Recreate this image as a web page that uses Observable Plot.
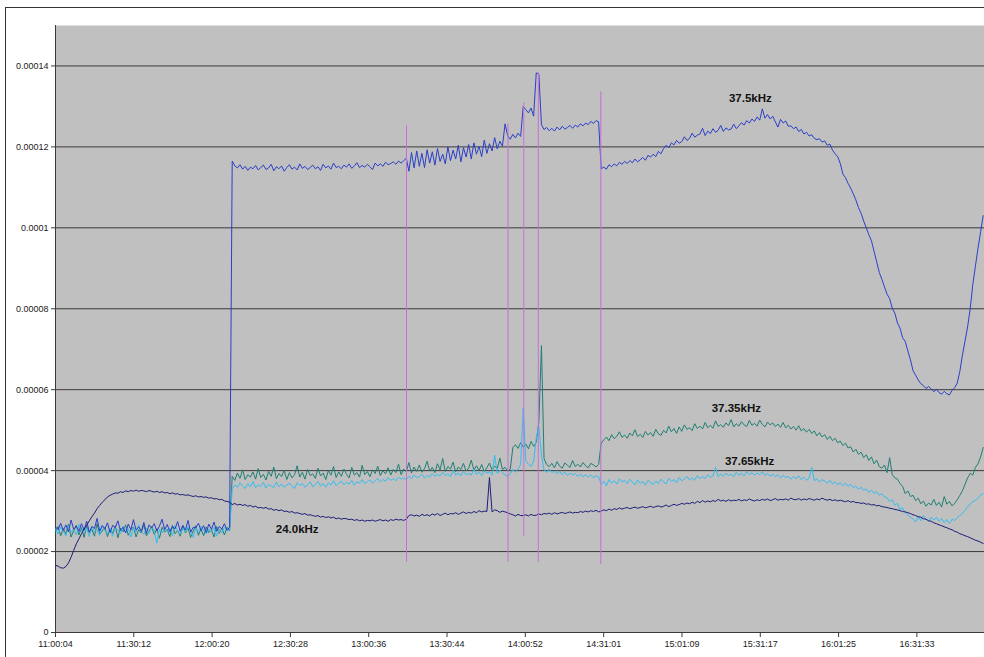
<!DOCTYPE html>
<html><head><meta charset="utf-8">
<script src="https://cdn.jsdelivr.net/npm/d3@7"></script>
<script src="https://cdn.jsdelivr.net/npm/@observablehq/plot@0.6"></script>
<style>
body{margin:0;background:#fff;}
#wrap{position:relative;width:984px;height:657px;overflow:hidden;}
#border{position:absolute;left:5px;top:7px;width:1200px;height:1000px;border-top:1px solid #333;border-left:1px solid #333;pointer-events:none;}
</style></head><body><div id="wrap"></div>
<script>
// sampling: one reading per minute starting at 11:00:04 (values in units of 1e-6)
const startTime = "11:00:04";
const endTime = "16:57:34";
const stepSeconds = 60;

const xTickLabels = ["11:00:04","11:30:12","12:00:20","12:30:28","13:00:36","13:30:44","14:00:52","14:31:01","15:01:09","15:31:17","16:01:25","16:31:33"];
const yTickLabels = ["0","0.00002","0.00004","0.00006","0.00008","0.0001","0.00012","0.00014"];

const seriesNames = ["37.35kHz","37.65kHz","37.5kHz","24.0kHz"];
const seriesColors = ["#1f7f73","#33bdf0","#2a3fc8","#1c1c78"];

const s3735 = [
24.8,26.2,23.9,25.7,24.4,26.8,23.6,25.2,26.5,24.1,
25.9,23.5,26.3,24.7,25.5,23.8,26.9,24.3,25.1,26.0,
23.7,25.6,24.5,26.4,23.4,25.8,24.9,26.6,24.0,25.3,
26.1,23.6,25.4,24.6,26.7,23.9,25.0,26.2,24.2,25.7,
23.3,26.0,24.8,25.5,23.7,26.5,24.4,25.2,23.8,26.3,
24.6,25.9,23.5,25.1,26.4,24.0,25.6,23.9,26.1,24.7,
25.4,23.6,26.2,24.5,25.8,24.1,26.0,25.2,38.6,37.6,
39.4,38.1,40.2,37.8,39.0,38.4,39.7,37.9,40.5,38.3,
39.1,37.7,39.8,38.6,40.9,38.0,39.3,38.5,40.1,37.8,
39.5,38.2,39.0,41.2,38.4,39.6,37.9,40.3,38.8,39.2,
38.1,40.6,38.7,39.4,37.8,40.0,38.9,41.0,38.3,39.7,
38.6,40.4,39.1,38.2,40.8,38.9,39.5,38.4,41.3,39.0,
39.8,38.5,40.2,39.3,41.1,38.8,40.0,39.2,40.7,38.9,
40.3,39.5,41.6,39.0,40.4,39.7,42.0,39.4,40.9,39.8,
41.4,39.6,40.5,42.3,39.9,40.8,39.5,41.7,40.2,43.0,
39.8,41.0,40.4,42.1,39.7,40.9,40.3,41.8,39.9,40.6,
42.6,40.1,41.2,40.0,41.5,39.8,40.7,41.9,40.2,41.1,
40.5,43.1,40.3,40.8,39.9,40.4,45.7,46.4,45.5,46.9,
45.8,46.6,45.4,47.2,46.0,47.0,52.0,70.9,43.0,41.5,
41.0,41.8,40.7,42.2,41.1,40.6,41.9,41.3,40.8,42.5,
41.0,41.6,40.9,42.0,41.2,40.7,41.8,41.4,40.9,41.5,
46.8,47.6,48.3,47.4,48.9,47.9,48.5,49.6,48.2,48.8,
48.0,49.3,48.6,50.1,48.4,49.0,48.2,49.7,48.8,49.4,
48.5,50.2,49.1,48.7,50.0,49.3,51.0,49.6,50.4,49.2,
50.8,49.7,51.3,50.2,50.6,49.9,51.6,50.4,51.0,50.3,
51.9,50.6,51.2,50.5,52.3,50.9,51.4,50.7,51.8,51.1,
52.6,50.8,51.6,51.0,52.1,51.3,50.9,52.4,51.2,51.7,
51.0,52.5,51.4,50.8,52.0,51.3,51.8,50.9,51.5,50.7,
51.9,50.6,51.2,50.3,50.9,50.0,51.1,49.8,50.4,49.5,
50.2,49.2,49.8,48.6,49.4,48.3,48.9,47.7,48.5,47.4,
48.0,46.9,47.3,46.2,46.8,45.6,45.9,44.6,45.3,44.0,
44.6,43.2,43.9,42.5,43.4,41.7,42.6,41.0,40.6,41.4,
39.5,43.2,39.0,38.2,37.9,36.8,36.1,34.3,35.0,33.6,
33.9,32.6,33.2,31.8,32.5,31.2,32.0,31.5,32.9,31.4,
32.2,31.0,33.6,31.7,32.4,31.3,31.9,32.8,33.9,35.0,
36.6,38.2,39.3,38.9,40.8,41.7,43.4,45.7
];

const s3765 = [
25.6,24.3,26.1,25.0,23.9,26.4,24.8,25.5,24.1,26.7,
25.2,24.6,25.9,23.7,26.2,24.9,25.4,24.0,26.5,25.1,
24.5,25.8,23.8,26.0,25.3,24.4,26.3,24.7,25.6,23.6,
25.9,24.8,26.6,25.0,24.2,25.7,24.5,26.1,25.2,22.1,
25.5,24.6,26.0,24.9,25.8,23.9,26.4,25.1,24.3,25.7,
24.8,26.2,25.0,23.5,25.9,24.7,26.3,25.3,24.4,25.6,
24.9,26.0,23.8,25.5,24.6,26.1,25.0,25.4,35.5,36.4,
35.9,37.0,36.2,35.6,36.8,36.0,37.3,35.8,36.5,36.1,
37.1,35.7,36.6,36.2,35.8,37.2,36.0,36.7,35.9,36.4,
36.9,36.1,35.6,37.0,36.3,36.8,35.9,36.5,37.2,36.0,
36.6,37.3,36.2,36.8,35.9,37.0,36.4,37.5,36.3,36.9,
37.4,36.5,37.1,36.7,37.6,36.4,37.2,36.9,37.8,36.8,
37.3,37.7,36.9,37.5,38.1,37.2,37.8,37.4,38.3,37.6,
38.0,37.5,38.4,37.9,38.2,37.8,38.6,38.0,38.9,38.3,
38.5,39.1,38.2,38.8,38.4,39.3,38.6,39.0,38.7,39.6,
38.8,39.2,38.5,40.1,38.9,39.4,38.7,39.8,39.0,39.3,
38.9,40.3,39.1,39.6,38.8,40.0,39.4,39.7,38.9,43.8,
39.3,40.1,39.5,39.0,38.6,39.2,40.3,39.6,40.4,41.5,
55.5,42.2,41.7,41.0,42.3,48.0,51.0,44.0,40.2,39.6,
40.4,39.5,39.9,39.2,39.8,39.0,39.6,38.8,39.4,38.9,
39.3,38.6,39.1,38.5,39.0,38.4,38.9,38.3,38.7,38.5,
36.6,37.4,36.2,37.8,36.9,37.5,36.7,38.0,37.2,37.6,
36.8,37.9,37.1,36.5,37.7,36.9,37.3,36.4,37.6,37.0,
36.6,37.4,36.8,37.9,37.2,36.7,38.1,37.3,37.8,37.0,
38.3,37.5,37.9,38.6,37.7,38.2,37.6,38.8,38.0,38.5,
38.1,39.0,38.3,38.7,40.8,38.5,39.2,38.6,39.4,38.8,
39.1,38.5,39.6,38.9,39.3,38.7,39.8,39.0,39.5,38.9,
39.4,39.0,39.7,38.8,39.3,38.6,39.1,38.5,39.0,38.2,
38.8,38.3,38.6,37.9,38.5,38.0,38.7,37.8,38.4,37.6,
38.1,40.8,37.5,38.0,37.2,37.8,37.4,36.9,37.6,36.8,
37.2,36.5,37.0,36.3,36.9,36.1,36.6,35.8,36.2,35.4,
35.9,35.1,35.5,34.6,35.2,34.4,34.8,33.9,34.3,33.5,
33.3,32.4,32.8,31.5,31.9,30.4,30.8,29.6,29.0,28.5,
28.1,27.3,28.6,27.6,28.9,28.0,27.4,28.5,27.8,28.4,
27.5,28.2,27.1,27.9,26.9,28.0,27.7,28.3,28.9,29.4,
30.2,31.0,31.8,32.3,32.6,33.3,33.9,34.3
];

const s375 = [
26.1,25.4,27.0,25.2,26.6,24.9,27.8,25.5,26.3,25.0,
26.9,25.3,27.5,24.8,26.2,25.7,28.2,25.1,26.4,25.6,
27.1,24.7,26.5,25.9,27.6,25.2,26.0,24.6,26.8,25.4,
27.9,25.3,26.1,25.0,27.2,24.5,26.6,25.8,26.9,25.1,
26.3,28.0,25.4,26.7,24.9,26.2,25.6,27.4,25.0,26.5,
25.3,27.7,24.8,26.0,25.9,27.0,25.2,26.4,24.7,26.8,
25.5,27.3,25.0,26.2,25.6,26.9,25.3,26.0,116.5,115.3,
114.8,115.6,114.5,115.2,114.2,115.0,114.6,115.4,114.3,114.9,
115.5,114.4,114.8,115.7,114.1,115.1,114.6,115.3,114.0,114.9,
115.6,114.5,115.0,114.3,115.8,114.7,115.2,114.4,114.9,115.5,
114.6,115.1,114.2,115.7,114.8,115.3,114.5,116.0,114.9,115.2,
114.6,115.5,115.0,115.8,114.7,115.3,116.1,114.9,115.4,115.0,
115.7,115.1,114.4,116.0,115.3,115.8,115.2,116.2,115.6,115.9,
116.3,115.7,116.5,116.0,116.6,117.2,114.0,118.6,114.8,119.0,
115.2,118.4,114.9,119.3,116.0,118.8,115.5,119.6,116.4,118.2,
115.8,120.0,116.6,119.2,117.0,120.4,116.3,119.8,117.5,120.6,
117.0,121.0,118.2,120.1,117.6,121.7,118.4,120.8,119.0,122.3,
119.5,121.4,120.2,125.7,122.8,121.9,123.1,122.2,123.4,122.6,
130.0,129.2,128.4,129.6,127.6,138.3,138.0,125.5,124.3,124.8,
124.0,124.6,123.9,124.9,124.2,125.1,124.4,124.8,125.3,124.6,
125.4,124.9,125.7,125.2,125.9,125.5,126.3,125.8,126.5,126.2,
114.6,115.0,114.5,115.6,115.1,115.8,115.3,116.2,115.7,116.4,
115.9,116.6,116.1,117.0,116.3,116.8,117.4,116.7,117.9,117.5,
118.2,117.6,118.9,118.3,119.6,120.4,119.8,121.0,120.5,121.6,
120.9,121.3,122.5,121.6,122.1,123.4,122.4,122.9,123.2,124.6,
122.8,123.9,123.3,124.5,123.6,124.1,125.3,123.8,124.7,124.2,
124.4,125.6,124.5,125.2,126.0,125.4,126.5,125.9,126.9,126.3,
127.4,126.6,129.4,127.1,128.0,126.9,127.6,126.2,124.9,126.8,
125.9,126.4,125.1,125.2,124.5,124.9,123.8,124.3,123.2,123.6,
122.7,123.0,122.1,121.8,122.0,121.2,121.5,120.4,120.7,119.2,
118.3,117.6,115.9,113.3,112.4,111.0,109.8,108.4,106.9,105.0,
103.6,101.7,100.0,98.3,96.8,94.2,91.6,89.0,87.3,85.4,
83.6,82.5,80.1,78.9,76.5,75.2,72.8,71.9,69.6,67.4,
64.7,63.6,62.4,61.5,61.0,60.3,60.8,60.2,59.5,60.1,
59.3,58.9,59.6,59.0,58.7,59.8,60.5,61.6,64.5,68.5,
72.0,75.5,80.0,86.0,90.5,95.0,99.0,103.0
];

const s240 = [
16.6,16.4,16.0,15.9,16.3,17.2,18.6,20.3,21.9,23.1,
24.4,25.6,26.5,27.6,28.6,29.5,30.6,31.4,32.2,32.8,
33.5,33.9,34.2,34.5,34.4,34.8,34.6,35.0,34.8,35.1,
34.9,35.2,34.9,35.1,35.0,34.8,35.1,34.9,34.7,34.9,
34.6,34.8,34.5,34.6,34.3,34.5,34.2,34.3,34.0,34.1,
33.9,34.0,33.8,33.6,33.8,33.5,33.6,33.4,33.5,33.2,
33.3,33.0,33.1,32.8,32.9,32.5,32.4,32.2,31.6,31.9,
31.5,31.7,31.4,31.6,31.2,31.4,31.0,31.2,30.8,30.9,
30.7,30.9,30.5,30.6,30.2,30.4,30.1,30.3,29.9,30.0,
29.7,29.9,29.5,29.6,29.4,29.2,29.4,29.0,29.1,28.9,
28.7,28.9,28.5,28.7,28.4,28.6,28.3,28.5,28.1,28.3,
28.0,28.2,28.1,27.9,28.0,27.7,27.9,27.6,27.8,27.5,
27.7,27.6,27.8,27.5,27.7,27.9,27.6,27.8,27.5,27.9,
27.7,28.0,27.8,27.9,27.7,28.0,28.9,29.1,28.8,29.0,
28.7,29.2,28.9,29.1,28.8,29.3,29.0,29.4,28.9,29.2,
29.5,29.1,29.4,29.3,29.6,29.2,29.5,29.8,29.4,29.7,
29.5,29.9,29.6,30.1,29.8,30.0,29.9,38.3,29.8,30.3,
30.1,29.7,30.0,29.8,29.6,29.3,29.1,28.8,29.2,28.9,
28.9,29.1,28.8,29.2,28.9,29.0,29.3,29.1,29.4,29.3,
29.5,29.2,29.6,29.3,29.5,29.7,29.4,29.6,29.8,29.5,
29.7,29.6,29.9,29.7,30.0,29.8,30.1,29.9,30.2,29.8,
30.0,30.3,30.1,30.5,30.2,30.6,30.4,30.8,30.5,30.7,
30.9,30.6,30.8,31.0,30.7,30.9,31.1,30.8,31.0,31.2,
30.9,31.1,31.3,31.0,31.2,31.5,31.1,31.4,31.7,31.4,
31.6,31.9,31.7,32.0,31.8,32.2,31.9,32.4,32.1,32.6,
32.2,32.5,32.3,32.6,32.4,32.9,32.5,32.7,32.4,32.8,
32.5,32.7,32.6,32.9,32.5,32.8,32.6,33.0,32.7,32.5,
32.8,32.6,32.9,32.7,33.0,32.6,32.8,33.1,32.7,32.9,
32.8,33.0,32.7,33.2,32.9,32.8,33.1,32.7,33.0,32.8,
33.1,32.9,32.7,33.0,32.8,33.2,32.9,32.7,32.9,32.6,
32.8,32.5,32.7,32.5,32.3,32.6,32.2,32.4,32.1,32.1,
31.9,32.0,31.7,31.8,31.5,31.6,31.3,31.4,31.1,31.0,
30.9,30.7,30.6,30.4,30.3,30.1,29.9,29.8,29.6,29.4,
29.1,28.9,28.6,28.5,28.1,28.0,27.6,27.5,27.1,26.9,
26.6,26.4,26.1,25.9,25.6,25.4,25.0,24.8,24.4,24.2,
23.9,23.7,23.4,23.1,22.8,22.6,22.3,22.0
];

// hand-drawn vertical marker lines (time, top value, bottom value, ×1e-6)
const markerTimes = ["13:15:08","13:54:12","14:00:17","14:05:52","14:29:55"];
const markerTops = [125.2,125.7,130.9,138.3,133.6];
const markerBottoms = [17.3,17.3,23.7,17.3,16.8];

// series labels (text, time, value ×1e-6)
const labelTexts = ["37.5kHz","37.35kHz","37.65kHz","24.0kHz"];
const labelTimes = ["15:27:28","15:22:04","15:27:10","12:33:04"];
const labelValues = [132.0,55.5,42.2,25.6];

// ---- build ----
const U = 1e-6;
function t(s){const [h,m,sec]=s.split(":").map(Number);return new Date(Date.UTC(2000,0,1,h,m,sec));}
const t0 = t(startTime);
const seriesValues = [s3735, s3765, s375, s240];
const rows = [];
seriesValues.forEach((arr, k) => arr.forEach((v, i) => rows.push({series: seriesNames[k], time: new Date(+t0 + i*stepSeconds*1000), value: v*U})));
const markers = markerTimes.map((s,i)=>({time:t(s), top:markerTops[i]*U, bottom:markerBottoms[i]*U}));
const labels = labelTexts.map((s,i)=>({text:s, time:t(labelTimes[i]), value:labelValues[i]*U}));
const xTicks = xTickLabels.map(t);
const yTicks = yTickLabels.map(Number);
const fmtX = d3.utcFormat("%H:%M:%S");
const yLab = new Map(yTicks.map((v,i)=>[v, yTickLabels[i]]));

const chart = Plot.plot({
  width: 984, height: 657,
  marginLeft: 55, marginRight: 0, marginTop: 25, marginBottom: 25,
  style: {fontFamily: "'Liberation Sans', Arial, sans-serif", fontSize: "9px", color: "#111", background: "transparent"},
  x: {type: "utc", domain: [t0, t(endTime)]},
  y: {domain: [0, 0.00015]},
  color: {domain: seriesNames, range: seriesColors},
  marks: [
    Plot.frame({fill: "#c0c0c0", stroke: null}),
    Plot.ruleY(yTicks.slice(1), {stroke: "#3a3a3a", strokeWidth: 1}),
    Plot.ruleY([0], {stroke: "#3a3a3a"}),
    Plot.ruleX([t0], {stroke: "#3a3a3a"}),
    ...seriesNames.map(n => Plot.line(rows.filter(r => r.series === n), {x: "time", y: "value", stroke: seriesColors[seriesNames.indexOf(n)], strokeWidth: 1})),
    Plot.ruleX(markers, {x: "time", y1: "top", y2: "bottom", stroke: "#c86fd8", strokeWidth: 1}),
    Plot.text(labels, {x: "time", y: "value", text: "text", fontWeight: "bold", fontSize: 11.5, fill: "#111"}),
    Plot.axisX(xTicks, {tickFormat: fmtX, tickSize: 5, tickPadding: 3, stroke: "#3a3a3a", fill: "#222"}),
    Plot.axisY(yTicks, {tickFormat: d => yLab.get(d), tickSize: 4, tickPadding: 3, stroke: "#3a3a3a", fill: "#222"})
  ]
});
const wrap = document.getElementById("wrap");
wrap.appendChild(chart);
const b = document.createElement("div"); b.id = "border"; wrap.appendChild(b);
</script>
</body></html>
